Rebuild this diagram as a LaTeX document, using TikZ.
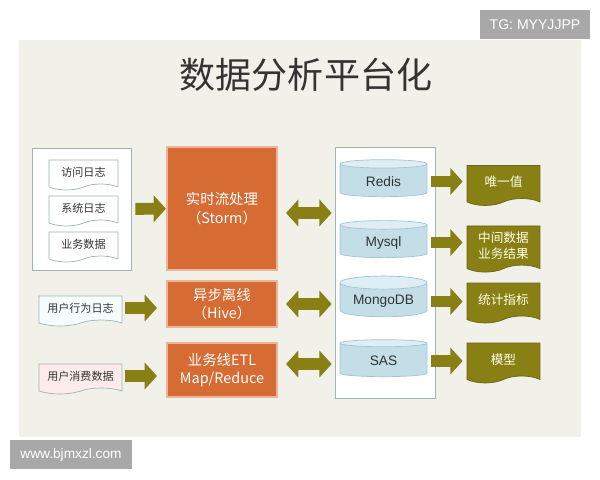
\documentclass[tikz,border=0pt]{standalone}
\usepackage{fontspec}
\usepackage{tikz}
\usetikzlibrary{shapes.geometric,shapes.symbols,arrows.meta}
\newfontfamily\cjk{Noto Sans CJK SC}
\newfontfamily\lat{Liberation Sans}
\definecolor{panel}{RGB}{241,240,233}
\definecolor{orng}{RGB}{214,108,52}
\definecolor{olv}{RGB}{136,128,20}
\definecolor{cylbody}{RGB}{196,222,232}
\definecolor{cyltop}{RGB}{222,238,244}
\definecolor{cylline}{RGB}{160,196,208}
\definecolor{boxline}{RGB}{160,178,178}
\definecolor{wmark}{RGB}{168,168,168}

\begin{document}
\begin{tikzpicture}[x=0.02cm,y=-0.02cm,
  doc/.style={tape, tape bend top=none, tape bend height=0.12cm, draw=boxline,
    fill=white, text=black!80, font=\cjk\fontsize{6.3}{7.5}\selectfont},
  proc/.style={rectangle, draw=orng!50!white, line width=1.2pt, fill=orng,
    minimum width=2.2cm, text=white, align=center,
    font=\cjk\fontsize{8.2}{10.5}\selectfont},
  db/.style={cylinder, shape border rotate=90, aspect=0.18, draw=cylline,
    cylinder uses custom fill, cylinder body fill=cylbody,
    cylinder end fill=cyltop, minimum width=1.74cm, minimum height=0.74cm,
    text=black!80, font=\lat\fontsize{7.8}{9}\selectfont},
  res/.style={tape, tape bend top=none, tape bend height=0.14cm, fill=olv,
    draw=olv!80!black, text=yellow!10, minimum width=1.46cm,
    minimum height=0.8cm, align=center, font=\cjk\fontsize{7.2}{9}\selectfont},
  flow/.style={olv, line width=6.8pt, -{Triangle[length=7pt,width=15pt]}},
  both/.style={olv, line width=6.8pt,
    {Triangle[length=7pt,width=15pt]}-{Triangle[length=7pt,width=15pt]}},
  wm/.style={fill=wmark, text=white, inner sep=0pt, minimum height=0.58cm}
]
\useasboundingbox (0,0) rectangle (600,480);

% panel
\fill[panel] (19,40) rectangle (581,437);
\draw[olv!12, line width=0.5pt] (50,128) -- (565,128);
\node[text=black!80, font=\cjk\fontsize{20.5}{24}\selectfont] (title) at (306,75) {数据分析平台化};

% sources
\node[draw=boxline, fill=white, minimum width=1.98cm, minimum height=2.44cm] (src) at (81.5,209) {};
\node[doc, minimum width=1.38cm, minimum height=0.6cm] (visit) at (83.5,172) {访问日志};
\node[doc, minimum width=1.38cm, minimum height=0.6cm] (syslog) at (83.5,208) {系统日志};
\node[doc, minimum width=1.38cm, minimum height=0.6cm] (biz) at (83.5,244) {业务数据};
\node[doc, fill=cyan!3, minimum width=1.66cm, minimum height=0.6cm] (behav) at (80.5,308) {用户行为日志};
\node[doc, fill=red!8, minimum width=1.66cm, minimum height=0.6cm] (spend) at (80.5,376) {用户消费数据};

% processing
\node[proc, minimum height=2.46cm] (storm) at (222,208.5) {实时流处理\\（Storm）};
\node[proc, minimum height=0.92cm] (hive) at (222,304) {异步离线\\（Hive）};
\node[proc, minimum height=1.08cm] (etl) at (222,370) {业务线ETL\\Map/Reduce};

% storage
\node[draw=boxline, fill=white, minimum width=2cm, minimum height=5.02cm] (store) at (385,272.5) {};
\node[db] (redis) at (383.5,181.5) {Redis};
\node[db] (mysql) at (383.5,242.5) {Mysql};
\node[db] (mongo) at (383.5,301.5) {MongoDB};
\node[db] (sas) at (383.5,361) {SAS};

% results
\node[res] (uniq) at (503.5,182) {唯一值};
\node[res] (inter) at (503.5,245.5) {中间数据\\业务结果};
\node[res] (stat) at (503.5,299.5) {统计指标};
\node[res] (model) at (503.5,359.5) {模型};

% arrows
\draw[flow, shorten <=0.08cm] (src) -- (storm);
\draw[flow, shorten <=0.06cm, shorten >=0.18cm] (behav.east) -- (behav.east -| hive.west);
\draw[flow, shorten <=0.06cm, shorten >=0.18cm] (spend.east) -- (spend.east -| etl.west);
\draw[both, shorten <=0.16cm, shorten >=0.06cm] ([yshift=-0.09cm]storm.east) -- ([yshift=-0.09cm]storm.east -| store.west);
\draw[both, shorten <=0.16cm, shorten >=0.06cm] (hive.east) -- (hive.east -| store.west);
\draw[both, shorten <=0.16cm, shorten >=0.06cm] ([yshift=0.12cm]etl.east) -- ([yshift=0.12cm]etl.east -| store.west);
\draw[flow, shorten <=0.08cm, shorten >=0.08cm] (redis.east) -- (redis.east -| uniq.west);
\draw[flow, shorten <=0.08cm, shorten >=0.08cm] (mysql.east) -- (mysql.east -| inter.west);
\draw[flow, shorten <=0.08cm, shorten >=0.08cm] (mongo.east) -- (mongo.east -| stat.west);
\draw[flow, shorten <=0.08cm, shorten >=0.08cm] (sas.east) -- (sas.east -| model.west);

% watermarks
\node[wm, minimum width=2.2cm, font=\lat\fontsize{8}{9}\selectfont] (tg) at (535,24.5) {TG: MYYJJPP};
\node[wm, minimum width=2.44cm, font=\lat\fontsize{7.8}{9}\selectfont] (site) at (71,454.5) {www.bjmxzl.com};
\end{tikzpicture}
\end{document}
